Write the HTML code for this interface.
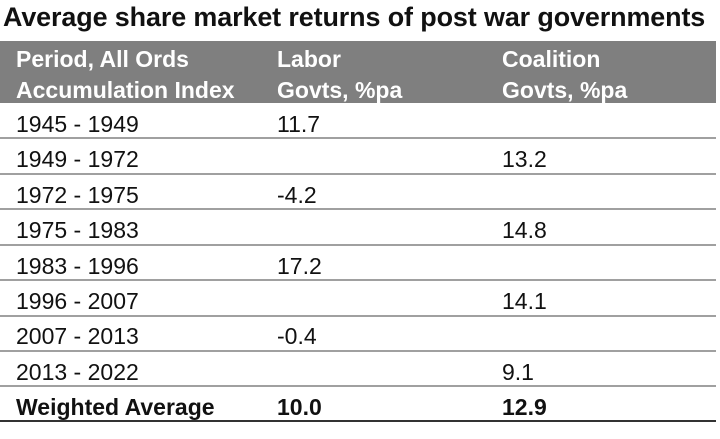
<!DOCTYPE html>
<html><head><style>
body{margin:0;width:720px;height:439px;background:#fff;font-family:"Liberation Sans",Arial,sans-serif;position:relative;overflow:hidden}
.t{position:absolute;left:3px;top:2px;font-size:26.9px;font-weight:bold;color:#111;white-space:nowrap;letter-spacing:-0.1px}
.h{position:absolute;left:0;top:41px;width:716px;height:62px;background:#7f7f7f}
.c{position:absolute;font-size:23px;color:#111;white-space:nowrap}
.hc{color:#fff;font-weight:bold;line-height:31px}
.l{position:absolute;left:0;width:716px;height:2px;background:#a0a0a0}
</style></head><body>
<div class="t">Average share market returns of post war governments</div>
<div class="h"></div>
<div class="c hc" style="left:16px;top:44px">Period, All Ords<br>Accumulation Index</div>
<div class="c hc" style="left:277px;top:44px">Labor<br>Govts, %pa</div>
<div class="c hc" style="left:502px;top:44px">Coalition<br>Govts, %pa</div>
<div class="c" style="left:16px;top:111px">1945 - 1949</div><div class="c" style="left:277px;top:111px">11.7</div>
<div class="l" style="top:137px"></div>
<div class="c" style="left:16px;top:146px">1949 - 1972</div><div class="c" style="left:502px;top:146px">13.2</div>
<div class="l" style="top:173px"></div>
<div class="c" style="left:16px;top:182px">1972 - 1975</div><div class="c" style="left:277px;top:182px">-4.2</div>
<div class="l" style="top:208px"></div>
<div class="c" style="left:16px;top:217px">1975 - 1983</div><div class="c" style="left:502px;top:217px">14.8</div>
<div class="l" style="top:244px"></div>
<div class="c" style="left:16px;top:253px">1983 - 1996</div><div class="c" style="left:277px;top:253px">17.2</div>
<div class="l" style="top:279px"></div>
<div class="c" style="left:16px;top:288px">1996 - 2007</div><div class="c" style="left:502px;top:288px">14.1</div>
<div class="l" style="top:315px"></div>
<div class="c" style="left:16px;top:323px">2007 - 2013</div><div class="c" style="left:277px;top:323px">-0.4</div>
<div class="l" style="top:350px"></div>
<div class="c" style="left:16px;top:359px">2013 - 2022</div><div class="c" style="left:502px;top:359px">9.1</div>
<div class="l" style="top:385px"></div>
<div class="c" style="left:16px;top:394px;font-weight:bold">Weighted Average</div><div class="c" style="left:277px;top:394px;font-weight:bold">10.0</div><div class="c" style="left:502px;top:394px;font-weight:bold">12.9</div>
<div class="l" style="top:420px;background:#333"></div>
</body></html>
